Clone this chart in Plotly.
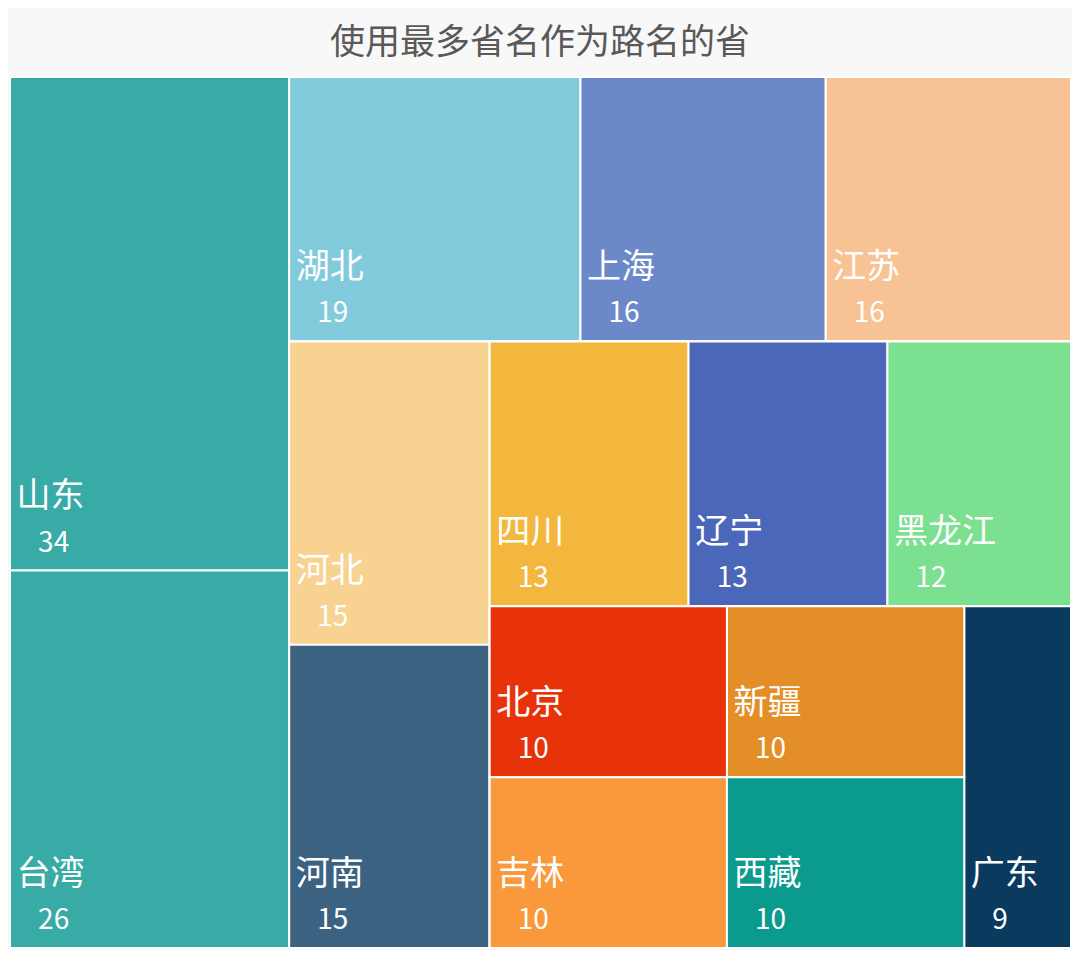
import plotly.graph_objects as go

# provinces and how many roads are named after them
provinces = ["山东", "台湾", "湖北", "上海", "江苏", "河北", "河南", "四川", "辽宁",
             "黑龙江", "北京", "吉林", "新疆", "西藏", "广东"]
counts = [34, 26, 19, 16, 16, 15, 15, 13, 13, 12, 10, 10, 10, 10, 9]
tile_colors = ["#38aba6", "#38aba6", "#82cbdc", "#6b89c9", "#f7c294", "#f8d291", "#3c6282",
               "#f3b73d", "#4a67ba", "#7be08f", "#e8320a", "#f9993b", "#e38e26", "#0a9a8e",
               "#0a3b5f"]

# invisible grouping so the tiles are cut in the same order as the original
province_group = ["colA", "colA", "row1", "row1", "row1", "col2", "col2", "row3", "row3",
                  "row3", "col4a", "col4a", "col4b", "col4b", "R4"]
group_ids = ["all", "colA", "R1", "row1", "R2", "col2", "R3", "row3", "R4", "col4a", "col4b"]
group_parents = ["", "all", "all", "R1", "R1", "R2", "R2", "R3", "R3", "R4", "R4"]

ids = group_ids + provinces
parents = group_parents + province_group
labels = [""] * len(group_ids) + provinces
values = [0] * len(group_ids) + counts
colors = ["rgba(0,0,0,0)"] * len(group_ids) + tile_colors
value_line = ("\u00a0\u00a0\u00a0\u00a0%{value}"
              "<span style='font-size:56px'>\u00a0</span>")
templates = [""] * len(group_ids) + [
    "<span style='font-size:16px'>\u00a0</span>%{label}<br>"
    "<span style='font-size:28px'>" + value_line + "</span>"
] * len(provinces)

fig = go.Figure(go.Treemap(
    ids=ids,
    labels=labels,
    parents=parents,
    values=values,
    branchvalues="remainder",
    sort=False,
    marker=dict(colors=colors, line=dict(color="white", width=2),
                pad=dict(t=0, l=0, r=0, b=0)),
    tiling=dict(packing="slice-dice", pad=0),
    texttemplate=templates,
    textposition="bottom left",
    textfont=dict(family="Noto Sans CJK SC", size=34, color="white"),
    pathbar=dict(visible=False),
    hoverinfo="label+value",
))

# title and page background (page body keeps an 8px margin)
fig.update_layout(
    title=dict(text="使用最多省名作为路名的省", x=0.5, xanchor="center",
               y=1 - 34 / 942, yanchor="middle",
               font=dict(family="Noto Sans CJK SC", size=35, color="#595959")),
    paper_bgcolor="#f8f8f8",
    margin=dict(l=2, r=1, t=69, b=2),
)

fig.write_html("out.html")
